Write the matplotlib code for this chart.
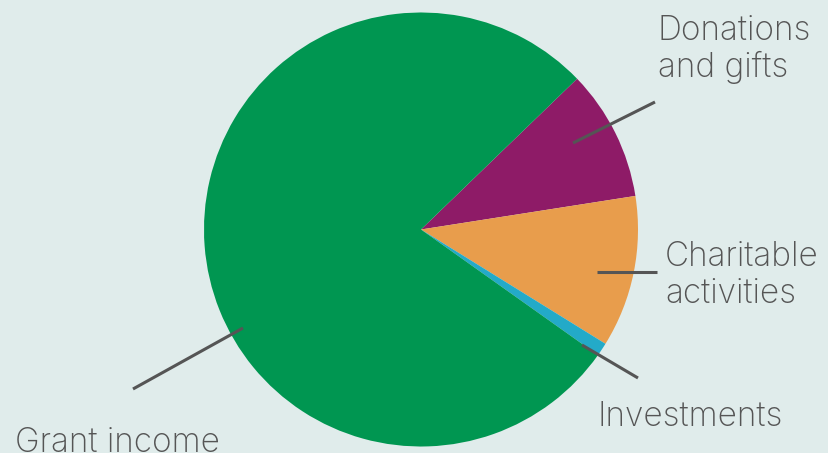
import matplotlib
matplotlib.use("Agg")
import matplotlib.pyplot as plt

# Datos del grafico (porcentajes)
categorias = ["Donations\nand gifts", "Charitable\nactivities", "Investments", "Grant income"]
valores = [9.75, 11.3, 1.0, 77.95]
colores = ["#8E1B67", "#E89D4C", "#23AAC8", "#009651"]

W, H = 829, 453
FONDO = "#E0ECEB"
GRIS = "#555555"

fig = plt.figure(figsize=(W / 100, H / 100), dpi=100, facecolor=FONDO)
ax = fig.add_axes([0, 0, 1, 1])
ax.set_facecolor(FONDO)

ax.pie(valores, colors=colores, startangle=44, counterclock=False,
       center=(421, H - 229.5), radius=217,
       wedgeprops=dict(linewidth=0))

# pie() cambia los limites, se fijan despues
ax.set_xlim(0, W)
ax.set_ylim(0, H)
ax.set_aspect("equal")
ax.axis("off")

# lineas guia (coordenadas en pixeles de imagen, y hacia abajo)
guias = [((573, 143), (655, 102)),
         ((597, 272), (657, 272)),
         ((582, 345), (638, 378)),
         ((243, 328), (133, 389))]
for (x0, y0), (x1, y1) in guias:
    ax.plot([x0, x1], [H - y0, H - y1], color=GRIS, lw=2.2, solid_capstyle="butt")

# etiquetas: x izquierda, baseline de la primera linea
pos_etiquetas = [(658, 40), (665, 266), (598, 426), (15, 452)]
interlineado = 37
for texto, (x, y) in zip(categorias, pos_etiquetas):
    for i, linea in enumerate(texto.split("\n")):
        ax.text(x, H - (y + i * interlineado), linea, fontsize=24,
                family="Inter", fontweight="light", color=GRIS,
                ha="left", va="baseline")

fig.savefig("out.png", dpi=100, facecolor=FONDO)
